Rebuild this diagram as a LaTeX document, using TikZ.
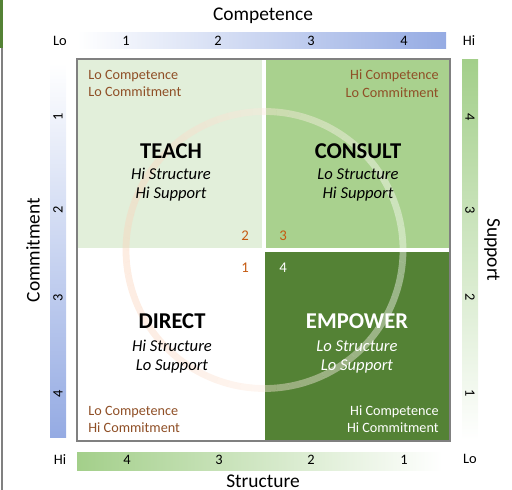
\documentclass[tikz,border=0pt]{standalone}
\usepackage{fontspec}
\setmainfont{Carlito}
\definecolor{teachfill}{HTML}{E2EFDA}
\definecolor{consultfill}{HTML}{A9D18E}
\definecolor{empowerfill}{HTML}{548235}
\definecolor{framegray}{HTML}{808080}
\definecolor{cornerbrown}{HTML}{8F4F26}
\definecolor{steporange}{HTML}{C55A11}
\definecolor{barblue}{HTML}{95ABE3}
\definecolor{bargreen}{HTML}{A3CF8A}
\definecolor{ringpeach}{HTML}{FAD3BB}
\begin{document}
\begin{tikzpicture}[x=0.5pt,y=-0.5pt,
  axistitle/.style={font=\fontsize{9.7}{11}\selectfont, inner sep=0pt},
  ticklbl/.style={font=\fontsize{7.2}{8.5}\selectfont, inner sep=0pt},
  corner/.style={font=\fontsize{7.1}{8.5}\selectfont, inner sep=0pt, text=cornerbrown},
  quadtitle/.style={font=\fontsize{11.3}{13}\selectfont\bfseries, inner sep=0pt},
  quadsub/.style={font=\fontsize{8.3}{10}\selectfont\itshape, inner sep=0pt},
  stepnum/.style={font=\fontsize{7.4}{9}\selectfont, inner sep=0pt, text=steporange},
  ringseg/.style={line width=3.4pt, line cap=butt, opacity=0.42}]
\useasboundingbox (0,0) rectangle (512,490);

% strip along the left edge
\fill[empowerfill] (0,0) rectangle (3,48);
\fill[framegray] (1,48) rectangle (3,490);

% axis bars
\shade[left color=white, right color=barblue] (77,33) rectangle (446,49);
\shade[left color=bargreen, right color=white] (77,452) rectangle (442,470);
\shade[top color=white, bottom color=barblue] (50,63) rectangle (66,437);
\shade[top color=bargreen, bottom color=white] (462,60) rectangle (478,440);

% quadrants
\fill[teachfill] (77,59) rectangle (262,248);
\fill[consultfill] (266,59) rectangle (450,248);
\fill[empowerfill] (265,252) rectangle (450,441);
\draw[framegray, line width=0.8pt] (77,59) rectangle (450,441);

% cycle ring, peach on the left fading to white on the right
\coordinate (ringc) at (264.5,250);
\foreach \a in {0,5,...,355}{
  \pgfmathtruncatemacro\w{50*(1+cos(\a+2.5))}
  \draw[ringseg, color=white!\w!ringpeach]
    ([shift={(\a:138.5)}]ringc) arc[start angle=\a, end angle=\a+5, radius=138.5];
}

% axis titles
\node[axistitle] (comp) at (263,16) {Competence};
\node[axistitle] (struct) at (263,481) {Structure};
\node[axistitle, rotate=90] (commit) at (33,250) {Commitment};
\node[axistitle, rotate=-90] (supp) at (492,250) {Support};

% top bar labels
\node[ticklbl] (tlo) at (60,41) {Lo};
\node[ticklbl] (thi) at (469,41) {Hi};
\node[ticklbl] (t1) at (126,41) {1};
\node[ticklbl] (t2) at (218,41) {2};
\node[ticklbl] (t3) at (311,41) {3};
\node[ticklbl] (t4) at (404,41) {4};

% bottom bar labels
\node[ticklbl] (bhi) at (60,460) {Hi};
\node[ticklbl] (blo) at (470,459) {Lo};
\node[ticklbl] (b4) at (127,460) {4};
\node[ticklbl] (b3) at (219,460) {3};
\node[ticklbl] (b2) at (311,460) {2};
\node[ticklbl] (b1) at (404,460) {1};

% left bar labels
\node[ticklbl, rotate=90] (l1) at (58,117) {1};
\node[ticklbl, rotate=90] (l2) at (58,210) {2};
\node[ticklbl, rotate=90] (l3) at (58,298) {3};
\node[ticklbl, rotate=90] (l4) at (58,394) {4};

% right bar labels
\node[ticklbl, rotate=-90] (r4) at (470,117) {4};
\node[ticklbl, rotate=-90] (r3) at (470,210) {3};
\node[ticklbl, rotate=-90] (r2) at (470,297) {2};
\node[ticklbl, rotate=-90] (r1) at (470,393) {1};

% TEACH
\node[corner, anchor=west] (tc1) at (88,76) {Lo Competence};
\node[corner, anchor=west] (tc2) at (88,92) {Lo Commitment};
\node[quadtitle] (teach) at (171,151) {TEACH};
\node[quadsub] (teachs1) at (171,174) {Hi Structure};
\node[quadsub] (teachs2) at (171,194) {Hi Support};
\node[stepnum] (n2) at (245,236) {2};

% CONSULT
\node[corner, anchor=east] (cc1) at (439,76) {Hi Competence};
\node[corner, anchor=east] (cc2) at (439,93) {Lo Commitment};
\node[quadtitle] (consult) at (358,151) {CONSULT};
\node[quadsub] (consults1) at (358,174) {Lo Structure};
\node[quadsub] (consults2) at (358,194) {Hi Support};
\node[stepnum] (n3) at (283,236) {3};

% DIRECT
\node[stepnum] (n1) at (245,268) {1};
\node[quadtitle] (direct) at (172,321) {DIRECT};
\node[quadsub] (directs1) at (172,346) {Hi Structure};
\node[quadsub] (directs2) at (172,366) {Lo Support};
\node[corner, anchor=west] (dc1) at (88,412) {Lo Competence};
\node[corner, anchor=west] (dc2) at (88,428) {Hi Commitment};

% EMPOWER
\node[stepnum, text=white] (n4) at (283,268) {4};
\node[quadtitle, text=white] (empower) at (357,321) {EMPOWER};
\node[quadsub, text=white] (empowers1) at (357,346) {Lo Structure};
\node[quadsub, text=white] (empowers2) at (357,366) {Lo Support};
\node[corner, anchor=east, text=white] (ec1) at (439,412) {Hi Competence};
\node[corner, anchor=east, text=white] (ec2) at (439,428) {Hi Commitment};
\end{tikzpicture}
\end{document}
